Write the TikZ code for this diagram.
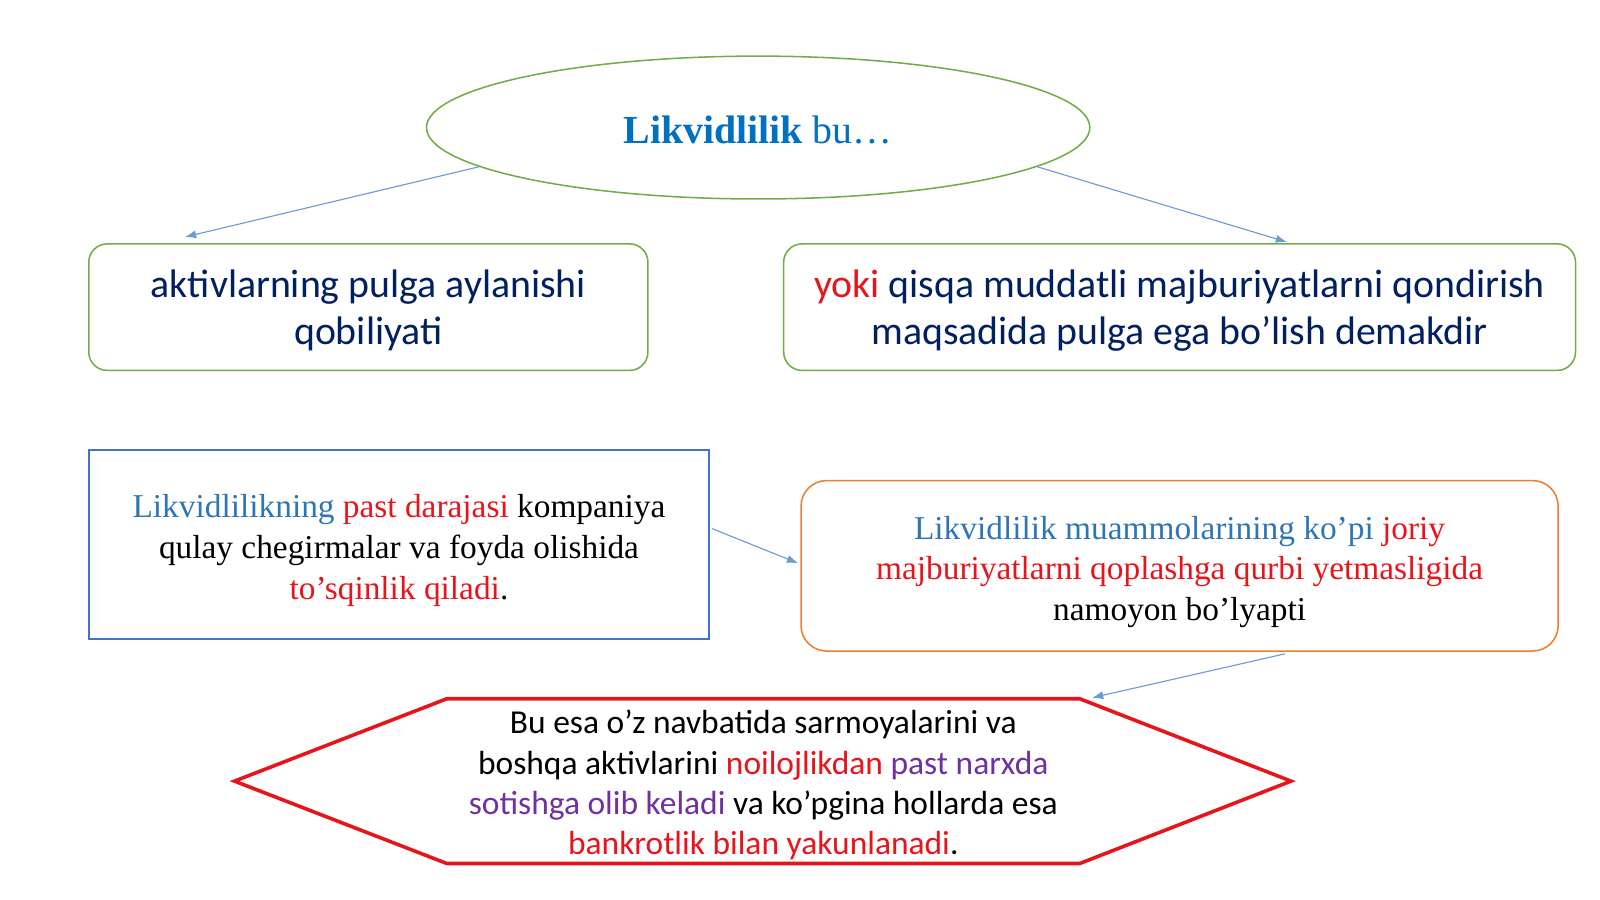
\documentclass[tikz,border=0pt]{standalone}
\usepackage{fontspec}
\setmainfont{Liberation Serif}
\newfontfamily\calibri{Carlito}
\usepackage{xcolor}
\usetikzlibrary{positioning, calc, shapes.geometric, arrows.meta}

\definecolor{boxgreen}{HTML}{70AD47}
\definecolor{navytext}{HTML}{002060}
\definecolor{titleblue}{HTML}{0070C0}
\definecolor{lightblue}{HTML}{2E75B6}
\definecolor{textred}{HTML}{E8141C}
\definecolor{textpurple}{HTML}{7030A0}
\definecolor{rectblue}{HTML}{4472C4}
\definecolor{boxorange}{HTML}{ED7D31}
\definecolor{hexred}{HTML}{E8141C}
\definecolor{arrowblue}{HTML}{6C9BD2}

\begin{document}
\begin{tikzpicture}[x=1pt, y=-1pt,
    greenbox/.style={draw=boxgreen, line width=1.5pt, rounded corners=18pt,
      minimum height=124pt},
    greentext/.style={align=center, text=navytext,
      font=\calibri\fontsize{39}{46}\selectfont},
    seriftext/.style={align=center, font=\fontsize{32.7}{40}\selectfont},
    arrow/.style={draw=arrowblue, line width=1.1pt,
      -{Latex[length=11pt, width=8pt]}}]
        \useasboundingbox (0,0) rectangle (1568,882);
        \node (likv) [draw=boxgreen, ellipse, line width=1.5pt, minimum width
        = 650pt, minimum height = 140pt] at (743,125) {};
        \node (likvtxt) [text=titleblue, font=\fontsize{39}{44}\selectfont]
        at ($(likv) + (0,2)$) {\textbf{Likvidlilik} bu…};
        \node (aktiv) [greenbox, minimum width = 548pt] at (361,301) {};
        \node (aktivtxt) [greentext] at ($(aktiv) + (0,3.5)$)
        {aktivlarning pulga aylanishi\\qobiliyati};
        \node (yoki) [greenbox, minimum width = 776pt] at (1156,301) {};
        \node (yokitxt) [greentext] at ($(yoki) + (0,3.5)$)
        {\textcolor{textred}{yoki} qisqa muddatli majburiyatlarni qondirish\\
        maqsadida pulga ega bo’lish demakdir};
        \node (past) [draw=rectblue, line width=1.5pt, minimum width = 608pt,
        minimum height = 185pt] at (391,533.5) {};
        \node (pasttxt) [seriftext] at ($(past) + (0,6)$)
        {\textcolor{lightblue}{Likvidlilikning} \textcolor{textred}{past
        darajasi} kompaniya\\qulay chegirmalar va foyda olishida\\
        \textcolor{textred}{to’sqinlik qiladi}.};
        \node (muammo) [draw=boxorange, line width=1.5pt, rounded corners=25pt,
        minimum width = 742pt, minimum height = 167pt] at (1156,554.5) {};
        \node (muammotxt) [seriftext] at ($(muammo) + (0,6)$)
        {\textcolor{lightblue}{Likvidlilik muammolarining ko’pi}
        \textcolor{textred}{joriy}\\\textcolor{textred}{majburiyatlarni
        qoplashga qurbi yetmasligida}\\namoyon bo’lyapti};
        \node (bankrot) [minimum width = 620pt, minimum height = 161pt]
        at (748,765.5) {};
        \node (bankrottxt) [align=center,
        font=\calibri\fontsize{32.8}{39.5}\selectfont]
        at ($(bankrot) + (0,4)$)
        {Bu esa o’z navbatida sarmoyalarini va\\boshqa aktivlarini
        \textcolor{textred}{noilojlikdan} \textcolor{textpurple}{past
        narxda}\\\textcolor{textpurple}{sotishga olib keladi} va ko’pgina
        hollarda esa\\\textcolor{textred}{bankrotlik bilan yakunlanadi}.};
        \draw [draw=hexred, line width=3.5pt] (bankrot.north west) --
        (bankrot.north east) -- ($(bankrot.east) + (207,0)$) --
        (bankrot.south east) -- (bankrot.south west) --
        ($(bankrot.west) + (-208,0)$) -- cycle;
        \draw [arrow] (likv.188) -- ($(aktiv.north west) + (95,-6)$);
        \draw [arrow] (likv.-8) -- ($(yoki.north west) + (494,-1)$);
        \draw [arrow] ($(past.east) + (2,-15.5)$) -- ($(muammo.west) +
        (-2,-2.5)$);
        \draw [arrow] ($(muammo.south west) + (475,2)$) --
        ($(bankrot.north east) + (12,-1)$);
    \end{tikzpicture}
\end{document}
